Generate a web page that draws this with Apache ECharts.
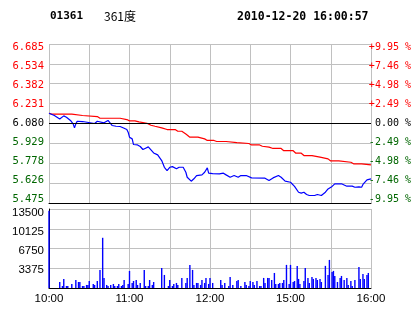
<!DOCTYPE html>
<html><head><meta charset="utf-8">
<script src="https://cdn.jsdelivr.net/npm/echarts@6/dist/echarts.min.js"></script>
<style>html,body{margin:0;padding:0;background:#fff}#c{width:414px;height:314px}</style>
</head><body><div id="c"></div>
<script>
const stockCode = '01361';
const stockName = '361度';
const stampText = '2010-12-20 16:00:57';
const basePrice = 6.080;
const priceMin = 5.475, priceMax = 6.685, priceStep = 0.15125;
const priceTickLabels = ['5.475','5.626','5.778','5.929','6.080','6.231','6.382','6.534','6.685'];
const pctTickLabels = ['-9.95 %','-7.46 %','-4.98 %','-2.49 %',' 0.00 %','+2.49 %','+4.98 %','+7.46 %','+9.95 %'];
const volTickLabels = ['', '3375', '6750', '10125', '13500'];
const volMax = 13500, volStep = 3375;
const xTickMinutes = [0, 60, 120, 180, 240];
const xTickLabels = ['10:00', '11:00', '12:00', '15:00', '16:00'];

const priceTimes = ['10:00','10:04','10:08','10:09','10:11','10:13','10:14','10:16','10:18','10:19','10:20','10:21','10:25','10:26','10:34','10:36','10:41','10:44','10:47','10:50','10:53','10:56','10:58','10:59',
'11:00','11:02','11:03','11:06','11:08','11:10','11:12','11:14','11:16','11:18','11:21','11:22','11:24','11:26','11:28','11:30','11:32','11:35','11:37','11:40','11:42','11:43','11:46','11:48','11:50','11:54','11:56','11:58','11:59',
'12:02','12:07','12:10','12:12','12:15','12:18','12:21','12:23','12:27',
'14:31','14:41','14:42','14:44','14:47','14:51','14:53','14:56',
'15:00','15:03','15:06','15:08','15:10','15:12','15:14','15:18','15:20','15:23','15:26','15:28','15:31','15:33','15:38','15:42','15:46','15:48','15:51','15:53','15:54','15:57','15:58','16:00'];
const priceValues = [6.158,6.141,6.115,6.107,6.138,6.128,6.123,6.103,6.077,6.047,6.077,6.097,6.095,6.082,6.080,6.097,6.085,6.103,6.065,6.059,6.057,6.044,6.034,6.014,
5.976,5.963,5.920,5.917,5.905,5.882,5.892,5.902,5.879,5.856,5.841,5.829,5.798,5.747,5.722,5.747,5.752,5.735,5.747,5.747,5.709,5.671,5.641,5.659,5.684,5.689,5.709,5.742,5.702,
5.699,5.696,5.702,5.689,5.671,5.684,5.671,5.684,5.684,
5.666,5.664,5.659,5.646,5.666,5.684,5.671,5.641,
5.633,5.601,5.557,5.550,5.557,5.540,5.532,5.532,5.540,5.532,5.557,5.582,5.601,5.621,5.621,5.603,5.603,5.595,5.598,5.595,5.616,5.651,5.664,5.658];

const avgTimes = ['10:00','10:02','10:17','10:18','10:25','10:26','10:36','10:38','10:53','10:54','10:58',
'11:00','11:04','11:05','11:07','11:08','11:13','11:16','11:19','11:24','11:28','11:34','11:36','11:39','11:42','11:45','11:51','11:52','11:56','11:58',
'12:03','12:05','12:12','12:13','12:20','12:21','12:29',
'14:31','14:37','14:39','14:44','14:47','14:53','14:55',
'15:02','15:04','15:08','15:10','15:16','15:17','15:22','15:23','15:28','15:30','15:36','15:37','15:45','15:47','15:53','15:54','16:00'];
const avgValues = [6.158,6.151,6.151,6.141,6.141,6.133,6.133,6.120,6.120,6.110,6.110,
6.100,6.100,6.092,6.092,6.082,6.082,6.067,6.059,6.047,6.034,6.034,6.021,6.021,6.000,5.976,5.976,5.963,5.963,5.951,
5.951,5.943,5.943,5.935,5.935,5.928,5.928,
5.917,5.917,5.907,5.900,5.890,5.890,5.873,
5.873,5.854,5.854,5.836,5.836,5.824,5.824,5.811,5.811,5.795,5.795,5.785,5.785,5.773,5.773,5.765,5.765];

const volTimes = ['10:00','10:08','10:10','10:11','10:13','10:14','10:17','10:20','10:22','10:23','10:25','10:26','10:28','10:29','10:30','10:33','10:34','10:36','10:38','10:40','10:41','10:43','10:44','10:46','10:48','10:49','10:51','10:52','10:54','10:55','10:56','10:59',
'11:00','11:02','11:03','11:05','11:06','11:08','11:11','11:12','11:14','11:15','11:17','11:18','11:24','11:26','11:29','11:30','11:32','11:33','11:35','11:36','11:39','11:42','11:43','11:45','11:47','11:48','11:50','11:51','11:53','11:54','11:56','11:57','11:59',
'12:00','12:02','12:08','12:09','12:11','12:14','12:15','12:17','12:20','12:21','12:23','12:26','12:27','12:29',
'14:30','14:32','14:33','14:35','14:37','14:38','14:40','14:41','14:43','14:44','14:46','14:48','14:49','14:51','14:52','14:54','14:55','14:57','14:59',
'15:00','15:02','15:03','15:05','15:06','15:07','15:10','15:11','15:13','15:14','15:16','15:17','15:19','15:20','15:22','15:23','15:26','15:28','15:29','15:31','15:32','15:33','15:35','15:37','15:38','15:40','15:42','15:43','15:45','15:46','15:48','15:51','15:52','15:54','15:55','15:57','15:58'];
const volValues = [13200,1030,340,1550,340,340,690,1370,1030,1030,340,340,520,520,1200,690,520,1200,3090,8580,1720,520,340,520,690,340,340,690,340,520,1370,690,
2920,860,1200,1370,520,860,3090,340,340,1370,520,1030,3430,2230,340,1370,340,690,860,520,1720,860,1720,3950,3090,520,860,860,520,1370,860,1720,690,
1720,860,1370,520,860,340,1890,520,1200,1370,340,1030,520,340,
1200,1030,520,1200,340,340,1720,860,1720,1720,1370,2570,690,690,860,860,1370,3950,690,
3950,1030,1200,3780,1550,690,1200,3430,1720,860,1890,1550,1720,1370,1550,1030,3780,2230,4800,2750,2920,2060,1030,1720,2060,1370,1720,520,1200,340,1370,3600,1550,2400,1550,2230,2570];

function toMin(t) {
  const p = t.split(':');
  let m = (+p[0]) * 60 + (+p[1]) - 600;
  if (m >= 270) m -= 120; // lunch break 12:30-14:30
  return m;
}
function pairs(times, vals) { return times.map((t, i) => [toMin(t), vals[i]]); }

const GRID = '#c0c0c0', RED = '#ff0000', GREEN = '#006600', BLUE = '#0000ff';
const monoFont = 'DejaVu Sans Mono';
function sideColor(v, labels) {
  let i = Math.round(Number(v));
  if (isNaN(i)) i = labels.indexOf(v);
  return i > 4 ? RED : (i < 4 ? GREEN : '#000');
}

const chart = echarts.init(document.getElementById('c'), null, { renderer: 'canvas' });
chart.setOption({
  animation: false,
  backgroundColor: '#fff',
  title: [
    { text: stockCode, left: 50, top: 11, padding: 0, textStyle: { fontFamily: monoFont, fontWeight: 'bold', fontSize: 11, color: '#000' } },
    { text: stockName, left: 104, top: 10, padding: 0, textStyle: { fontFamily: 'Noto Sans CJK SC', fontWeight: 'normal', fontSize: 12, color: '#000' } },
    { text: stampText, left: 237, top: 11, padding: 0, textStyle: { fontFamily: monoFont, fontWeight: 'bold', fontSize: 11.5, color: '#000' } }
  ],
  grid: [
    { left: 49, width: 322, top: 44, height: 159 },
    { left: 49, width: 322, top: 209, height: 79 },
    { left: 49, width: 322, top: 47.7, height: 152 },
    { left: 49, width: 322, top: 213.3, height: 75.6 }
  ],
  xAxis: [
    { gridIndex: 0, type: 'value', min: 0, max: 240, interval: 30,
      axisLine: { show: true, onZero: false, lineStyle: { color: '#000', width: 1 } },
      axisTick: { show: false }, axisLabel: { show: false },
      splitLine: { show: true, lineStyle: { color: GRID, width: 1 } } },
    { gridIndex: 1, type: 'value', min: 0, max: 240, interval: 30,
      axisLine: { show: true, onZero: false, lineStyle: { color: '#000', width: 1 } },
      axisTick: { show: false },
      axisLabel: { show: true, margin: 5, color: '#000', fontFamily: 'Liberation Sans', fontSize: 11.5,
        formatter: v => { const i = xTickMinutes.indexOf(v); return i >= 0 ? xTickLabels[i] : ''; } },
      splitLine: { show: true, lineStyle: { color: GRID, width: 1 } } },
    { gridIndex: 2, type: 'value', min: 0, max: 240, show: false },
    { gridIndex: 3, type: 'value', min: 0, max: 240, show: false }
  ],
  yAxis: [
    { gridIndex: 0, type: 'value', min: priceMin, max: priceMax, interval: priceStep,
      axisLine: { show: false }, axisTick: { show: false }, axisLabel: { show: false },
      splitLine: { show: true, lineStyle: { color: GRID, width: 1 } } },
    { gridIndex: 1, type: 'value', min: 0, max: volMax, interval: volStep,
      axisLine: { show: true, lineStyle: { color: '#000', width: 1 } }, axisTick: { show: false }, axisLabel: { show: false },
      splitLine: { show: true, lineStyle: { color: GRID, width: 1 } } },
    { gridIndex: 2, type: 'value', position: 'left', min: 0, max: 8, interval: 1,
      axisLine: { show: false }, axisTick: { show: false }, splitLine: { show: false },
      axisLabel: { margin: 5, fontFamily: monoFont, fontSize: 10.5,
        formatter: v => priceTickLabels[v], color: v => sideColor(v, priceTickLabels) } },
    { gridIndex: 2, type: 'value', position: 'right', min: 0, max: 8, interval: 1,
      axisLine: { show: false }, axisTick: { show: false }, splitLine: { show: false },
      axisLabel: { margin: 1, fontFamily: monoFont, fontSize: 10,
        formatter: v => pctTickLabels[v], color: v => sideColor(v, pctTickLabels) } },
    { gridIndex: 3, type: 'value', position: 'left', min: 0, max: 4, interval: 1,
      axisLine: { show: false }, axisTick: { show: false }, splitLine: { show: false },
      axisLabel: { margin: 5, fontFamily: 'Liberation Sans', fontSize: 11.5, color: '#000',
        formatter: v => volTickLabels[v] } }
  ],
  series: [
    { type: 'line', xAxisIndex: 0, yAxisIndex: 0, data: pairs(avgTimes, avgValues), showSymbol: false, symbol: 'none',
      lineStyle: { color: RED, width: 1.2 }, z: 3,
      markLine: { silent: true, symbol: ['none', 'none'], label: { show: false },
        lineStyle: { color: '#000', type: 'solid', width: 1 }, data: [{ yAxis: basePrice }] } },
    { type: 'line', xAxisIndex: 0, yAxisIndex: 0, data: pairs(priceTimes, priceValues), showSymbol: false, symbol: 'none',
      lineStyle: { color: BLUE, width: 1.2 }, z: 4 },
    { type: 'bar', xAxisIndex: 1, yAxisIndex: 1, data: pairs(volTimes, volValues), barWidth: 1.4,
      itemStyle: { color: BLUE }, z: 3 }
  ]
});
</script></body></html>
